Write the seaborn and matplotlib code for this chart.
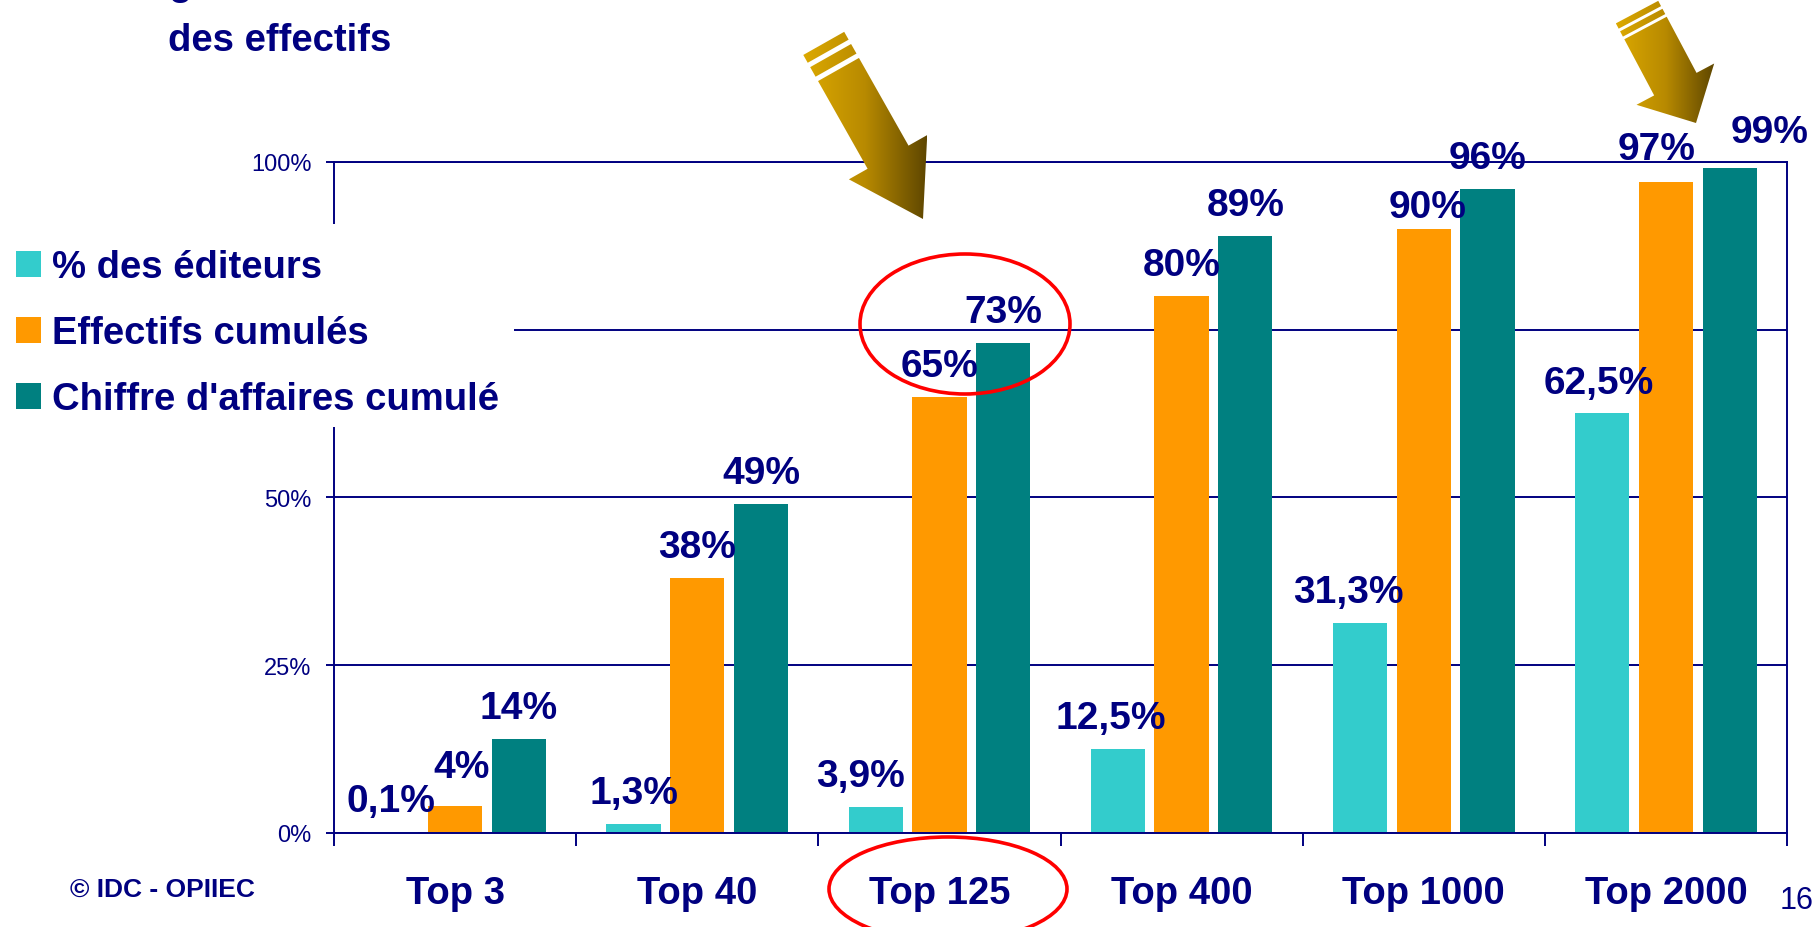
import numpy as np
import pandas as pd
import matplotlib
matplotlib.use('Agg')
import matplotlib.pyplot as plt
import seaborn as sns
from matplotlib.patches import Rectangle, Ellipse, PathPatch
from matplotlib.path import Path
from matplotlib.colors import LinearSegmentedColormap

# Data
categories = ['Top 3', 'Top 40', 'Top 125', 'Top 400', 'Top 1000', 'Top 2000']
editeurs = [0.1, 1.3, 3.9, 12.5, 31.3, 62.5]
effectifs = [4, 38, 65, 80, 90, 97]
chiffre = [14, 49, 73, 89, 96, 99]
series = ['% des éditeurs', 'Effectifs cumulés', "Chiffre d'affaires cumulé"]
colors = ['#33CCCC', '#FF9900', '#008080']
yticks = [0, 25, 50, 75, 100]
ytick_labels = ['0%', '25%', '50%', '', '100%']  # 75% is hidden by the legend block

navy = '#000080'

df = pd.DataFrame({
    'cat': categories * 3,
    'serie': np.repeat(series, len(categories)),
    'val': editeurs + effectifs + chiffre,
})

sns.set_theme(style='white')
plt.rcParams['font.family'] = ['Liberation Sans', 'DejaVu Sans']

W, H = 1816, 928
fig = plt.figure(figsize=(W / 100, H / 100), dpi=100)
fig.patch.set_facecolor('white')

# main chart axes (pixel box 334..1787 x 162.7..834)
ax = fig.add_axes([334 / W, 1 - 834 / H, (1787 - 334) / W, (834 - 162.7) / H])
sns.barplot(data=df, x='cat', y='val', hue='serie', order=categories, hue_order=series,
            palette=colors, width=0.79, gap=0.15, saturation=1, linewidth=0,
            legend=False, ax=ax)

ax.set_xlim(-0.5, len(categories) - 0.5)
ax.set_ylim(0, 100)
ax.set_xlabel('')
ax.set_ylabel('')
ax.yaxis.grid(True, color=navy, lw=1.4)
ax.set_axisbelow(True)
for s in ax.spines.values():
    s.set_visible(True)
    s.set_color(navy)
    s.set_linewidth(1.4)

ax.set_yticks(yticks)
ax.set_yticklabels(ytick_labels)
ax.tick_params(axis='y', direction='out', length=5.8, width=1.4, color=navy, pad=10.5,
               labelsize=17, labelcolor=navy, left=True)
ax.set_xticks(range(len(categories)))
ax.set_xticklabels(categories, fontsize=27.5, fontweight='bold', color=navy)
ax.tick_params(axis='x', which='major', length=0, pad=30.5)
ax.set_xticks(np.arange(-0.5, len(categories), 1), minor=True)
ax.tick_params(axis='x', which='minor', length=9.4, width=1.4, color=navy,
               direction='out', bottom=True)


def fmt(v):
    return f'{v:g}'.replace('.', ',') + '%'


# hand-placed labels on the slide (offset in points): (series, category) -> (dx, dy)
nudge = {(0, 2): (-11, 0), (0, 3): (-5, 0), (0, 4): (-8, 0), (0, 5): (-2.5, 0),
         (1, 0): (4.5, 6), (1, 4): (2.5, -6.5), (1, 5): (-7, 1.5), (2, 5): (28.5, 4)}

for si, (cont, vals) in enumerate(zip(ax.containers, [editeurs, effectifs, chiffre])):
    for ci, (bar, v) in enumerate(zip(cont, vals)):
        dx, dy = nudge.get((si, ci), (0, 0))
        ax.annotate(fmt(v), (bar.get_x() + bar.get_width() / 2, bar.get_height()),
                    xytext=(dx, 15 + dy), textcoords='offset points', ha='center', va='baseline',
                    fontsize=28, fontweight='bold', color=navy)

# overlay in pixel coordinates for slide decorations
ov = fig.add_axes([0, 0, 1, 1], zorder=10)
ov.set_facecolor('none')
ov.axis('off')

# title (first line cut off by the crop)
ov.text(168, -5, 'g', fontsize=27.5, fontweight='bold', color=navy, va='baseline')
ov.text(168, 51, 'des effectifs', fontsize=27.5, fontweight='bold', color=navy, va='baseline')

# legend on white block
ov.add_patch(Rectangle((0, 225), 514, 203, facecolor='white', edgecolor='none'))
for i, (lab, col) in enumerate(zip(series, colors)):
    base = 278 + i * 66
    ov.add_patch(Rectangle((16, base - 26), 25, 26, facecolor=col, edgecolor='none'))
    ov.text(52, base, lab, fontsize=27.5, fontweight='bold', color=navy, va='baseline')

ov.text(70, 897, '© IDC - OPIIEC', fontsize=19, fontweight='bold', color=navy, va='baseline')
ov.text(1780, 909, '16', fontsize=22, color=navy, va='baseline')

# red ellipses
ov.add_patch(Ellipse((965, 325), 210, 140, fill=False, edgecolor='red', lw=2.6))
ov.add_patch(Ellipse((948, 890), 238, 104, fill=False, edgecolor='red', lw=2.6))

# gold gradient arrows
cmap = LinearSegmentedColormap.from_list('gold', ['#DCA900', '#B88A00', '#5E4600'])


def draw_arrow(tip, tail, head_len, head_w, shaft_w, stripes):
    tip = np.array(tip, float)
    tail = np.array(tail, float)
    u = (tip - tail) / np.linalg.norm(tip - tail)
    n = np.array([-u[1], u[0]])
    base = tip - u * head_len
    body = [tail + n * shaft_w / 2, base + n * shaft_w / 2, base + n * head_w / 2, tip,
            base - n * head_w / 2, base - n * shaft_w / 2, tail - n * shaft_w / 2]
    polys = [np.array(body)]
    off = 0
    for gap, th in stripes:
        a = tail - u * (off + gap)
        b = tail - u * (off + gap + th)
        polys.append(np.array([a + n * shaft_w / 2, b + n * shaft_w / 2,
                               b - n * shaft_w / 2, a - n * shaft_w / 2]))
        off += gap + th
    path = Path.make_compound_path(*[Path(np.vstack([p, p[:1]]), closed=True) for p in polys])
    patch = PathPatch(path, facecolor='none', edgecolor='none')
    ov.add_patch(patch)
    pts = np.vstack(polys)
    im = ov.imshow(np.linspace(0, 1, 256)[None, :], cmap=cmap, aspect='auto',
                   extent=[pts[:, 0].min(), pts[:, 0].max(), pts[:, 1].max(), pts[:, 1].min()])
    im.set_clip_path(patch)


draw_arrow((923, 220), (838.5, 70.5), 71, 90, 47, [(5, 11), (5, 9)])
draw_arrow((1696, 124), (1645.5, 29), 44, 88, 48, [(3, 6), (3, 6)])

ov.set_xlim(0, W)
ov.set_ylim(H, 0)

fig.savefig('out.png', dpi=100)
